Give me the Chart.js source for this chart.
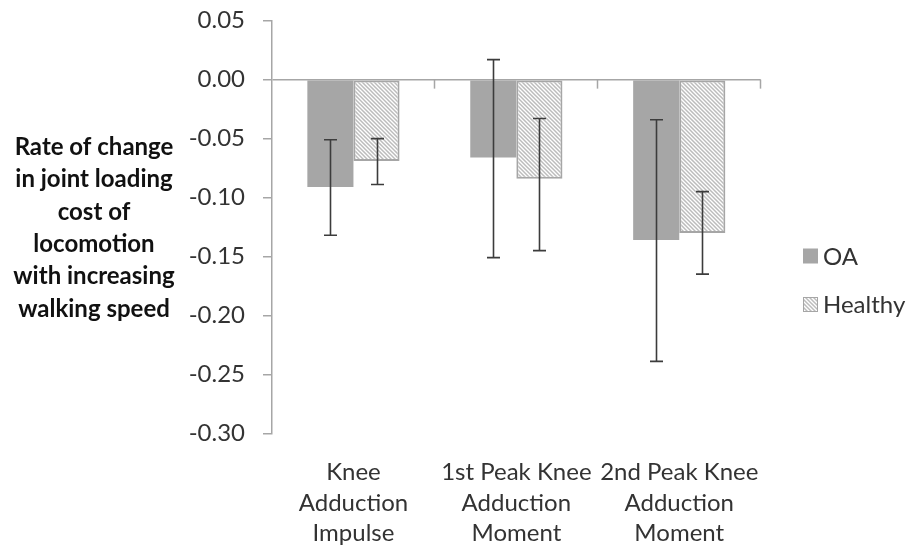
<!DOCTYPE html>
<html>
<head>
<meta charset="utf-8">
<script src="https://cdn.jsdelivr.net/npm/chart.js@4.4.0/dist/chart.umd.min.js"></script>
<style>
  html, body { margin: 0; padding: 0; background: #ffffff; }
  #wrap { width: 911px; height: 548px; position: relative; }
</style>
</head>
<body>
<div id="wrap"><canvas id="chart" width="911" height="548"></canvas></div>
<script>
// Categories (multi-line labels) and series
const categories = [
  ['Knee', 'Adduction', 'Impulse'],
  ['1st Peak Knee', 'Adduction', 'Moment'],
  ['2nd Peak Knee', 'Adduction', 'Moment']
];
const seriesNames = ['OA', 'Healthy'];

// Mean rate of change per category
const oaValues = [-0.091, -0.066, -0.136];
const healthyValues = [-0.069, -0.084, -0.130];

// Error bar extents above / below each mean
const oaErrPlus = [0.040, 0.083, 0.102];
const oaErrMinus = [0.041, 0.085, 0.103];
const healthyErrPlus = [0.019, 0.051, 0.035];
const healthyErrMinus = [0.020, 0.061, 0.035];

// Value axis
const yMin = -0.30;
const yMax = 0.05;
const yStep = 0.05;

// Horizontal axis title, one entry per line
const axisTitleLines = ['Rate of change', 'in joint loading', 'cost of', 'locomotion', 'with increasing', 'walking speed'];

const FONT = 'Lato, "Open Sans", sans-serif';
const TEXT = '#333333';
const AXIS = '#a6a6a6';
const OA_FILL = '#a6a6a6';

function makeHatch() {
  const t = document.createElement('canvas');
  t.width = 8; t.height = 8;
  const g = t.getContext('2d');
  g.fillStyle = '#ffffff';
  g.fillRect(0, 0, 8, 8);
  g.strokeStyle = '#bcbcbc';
  g.lineWidth = 1.5;
  for (let k = -8; k <= 8; k += 4) {
    g.beginPath();
    g.moveTo(-1, k - 1);
    g.lineTo(9, k + 9);
    g.stroke();
  }
  return g.createPattern(t, 'repeat');
}
const hatch = makeHatch();

const errorSets = [
  { plus: oaErrPlus, minus: oaErrMinus },
  { plus: healthyErrPlus, minus: healthyErrMinus }
];

// Error bars, category ticks on the zero line, side title and legend
const extras = {
  id: 'extras',
  afterDatasetsDraw(chart) {
    const ctx = chart.ctx;
    const y = chart.scales.y;
    const x = chart.scales.x;
    const area = chart.chartArea;
    ctx.save();

    // tick marks between categories, hanging from the zero line
    const y0 = y.getPixelForValue(0);
    const n = x.ticks.length;
    const step = (area.right - area.left) / n;
    ctx.strokeStyle = AXIS;
    ctx.lineWidth = 1.5;
    for (let i = 1; i <= n; i++) {
      const bx = Math.round(area.left + i * step) - 0.5;
      ctx.beginPath();
      ctx.moveTo(bx, y0);
      ctx.lineTo(bx, y0 + 9);
      ctx.stroke();
    }

    // error bars
    ctx.strokeStyle = '#3c3c3c';
    ctx.lineWidth = 1.6;
    chart.data.datasets.forEach((ds, di) => {
      const meta = chart.getDatasetMeta(di);
      const errs = errorSets[di];
      meta.data.forEach((bar, i) => {
        const v = ds.data[i];
        const cx = Math.round(bar.x) + 0.5;
        const top = y.getPixelForValue(v + errs.plus[i]);
        const bot = y.getPixelForValue(v - errs.minus[i]);
        ctx.beginPath();
        ctx.moveTo(cx, top); ctx.lineTo(cx, bot);
        ctx.moveTo(cx - 6.5, top); ctx.lineTo(cx + 6.5, top);
        ctx.moveTo(cx - 6.5, bot); ctx.lineTo(cx + 6.5, bot);
        ctx.stroke();
      });
    });
    ctx.restore();
  },
  afterDraw(chart) {
    const ctx = chart.ctx;
    ctx.save();

    // side title
    ctx.fillStyle = '#111111';
    ctx.font = 'bold 24px ' + FONT;
    ctx.textAlign = 'center';
    ctx.textBaseline = 'alphabetic';
    axisTitleLines.forEach((line, i) => {
      ctx.fillText(line, 94, 155 + i * 32.3);
    });

    // legend
    const legendY = [256, 304.5];
    ctx.font = '24px ' + FONT;
    ctx.textAlign = 'left';
    ctx.textBaseline = 'middle';
    chart.data.datasets.forEach((ds, i) => {
      const cy = legendY[i];
      ctx.fillStyle = ds.backgroundColor;
      ctx.fillRect(803, cy - 7.5, 15, 15);
      if (ds.borderWidth) {
        ctx.strokeStyle = ds.borderColor;
        ctx.lineWidth = 1;
        ctx.strokeRect(803.5, cy - 7, 14, 14);
      }
      ctx.fillStyle = TEXT;
      ctx.fillText(ds.label, 823, cy + 1);
    });
    ctx.restore();
  }
};

new Chart(document.getElementById('chart'), {
  type: 'bar',
  data: {
    labels: categories,
    datasets: [
      {
        label: seriesNames[0],
        data: oaValues,
        backgroundColor: OA_FILL,
        borderWidth: 0,
        categoryPercentage: 0.566,
        barPercentage: 1.0
      },
      {
        label: seriesNames[1],
        data: healthyValues,
        backgroundColor: hatch,
        borderColor: AXIS,
        borderWidth: 2,
        borderSkipped: false,
        categoryPercentage: 0.566,
        barPercentage: 1.0
      }
    ]
  },
  options: {
    responsive: false,
    animation: false,
    devicePixelRatio: 1,
    layout: { padding: { left: 0, right: 150.3, top: 20.7, bottom: 0 } },
    plugins: {
      legend: { display: false },
      tooltip: { enabled: false }
    },
    scales: {
      x: {
        grid: { display: false },
        border: { display: false },
        ticks: {
          color: TEXT,
          font: { family: FONT, size: 24, lineHeight: 1.27 },
          padding: 16,
          maxRotation: 0,
          autoSkip: false
        },
        afterFit(scale) {
          scale.height = 114.7;
          scale.paddingLeft = 0;
          scale.paddingRight = 0;
        }
      },
      y: {
        min: yMin,
        max: yMax,
        grid: {
          drawOnChartArea: true,
          color: (c) => (c.tick && Math.abs(c.tick.value) < 1e-9) ? AXIS : 'rgba(0,0,0,0)',
          lineWidth: 1.5,
          tickColor: AXIS,
          tickLength: 9
        },
        border: { color: AXIS, width: 1.5 },
        ticks: {
          stepSize: yStep,
          color: TEXT,
          font: { family: FONT, size: 24 },
          padding: 18,
          callback: (v) => Number(v).toFixed(2)
        },
        afterFit(scale) {
          scale.width = 272;
          scale.paddingTop = 0;
          scale.paddingBottom = 0;
        }
      }
    }
  },
  plugins: [extras]
});
</script>
</body>
</html>
